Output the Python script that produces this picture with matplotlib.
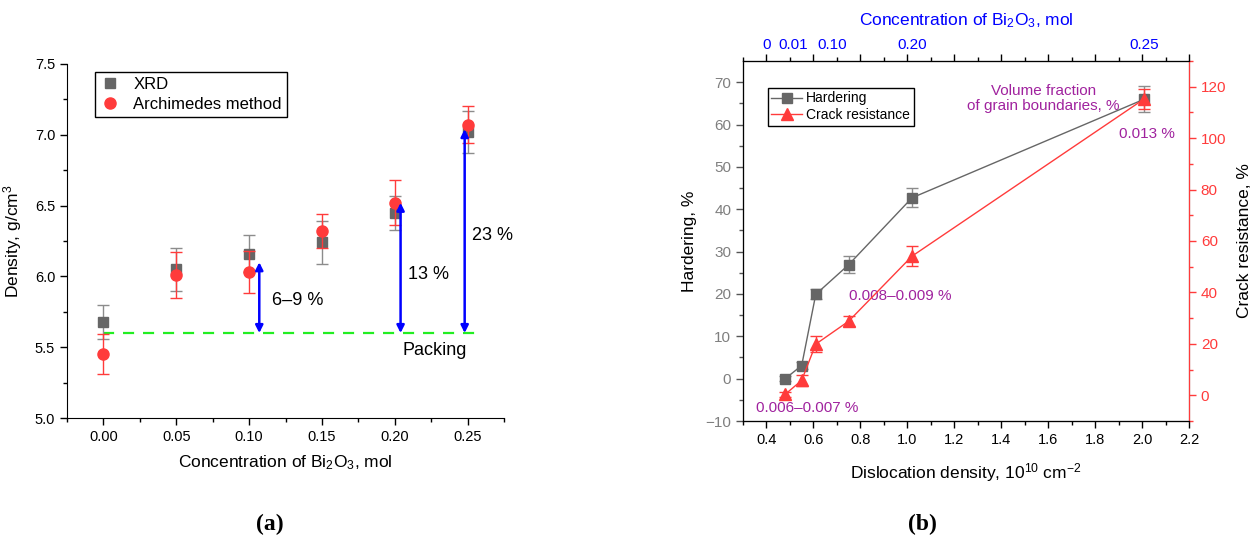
import matplotlib
matplotlib.use("Agg")
import matplotlib.pyplot as plt
import numpy as np

plt.rcParams['font.family'] = ['Liberation Sans', 'DejaVu Sans']
plt.rcParams['mathtext.fontset'] = 'custom'
plt.rcParams['mathtext.rm'] = 'Liberation Sans'
plt.rcParams['mathtext.it'] = 'Liberation Sans:italic'
plt.rcParams['mathtext.bf'] = 'Liberation Sans:bold'

# (a) density vs concentration
conc = [0.00, 0.05, 0.10, 0.15, 0.20, 0.25]
xrd = [5.68, 6.05, 6.16, 6.24, 6.45, 7.02]
xrd_err = [0.12, 0.15, 0.13, 0.15, 0.12, 0.15]
arch = [5.45, 6.01, 6.03, 6.32, 6.52, 7.07]
arch_err = [0.14, 0.16, 0.15, 0.12, 0.16, 0.13]
packing = 5.6
arrow_x = [0.107, 0.204, 0.248]
arrow_top = [6.10, 6.52, 7.04]
arrow_txt = ["6\u20139 %", "13 %", "23 %"]
arrow_txt_pos = [(0.116, 5.83), (0.209, 6.01), (0.253, 6.29)]

# (b) hardering / crack resistance vs dislocation density
disl = [0.48, 0.55, 0.61, 0.75, 1.02, 2.01]
hard = [0.0, 3.1, 19.9, 26.9, 42.7, 66.0]
hard_err = [0.6, 0.8, 1.2, 2.0, 2.2, 3.0]
crack = [0.4, 5.8, 19.9, 28.8, 54.1, 115.3]
crack_err = [1.0, 2.0, 3.0, 2.0, 4.0, 4.0]
top_pos = [0.40, 0.515, 0.68, 1.02, 2.01]
top_lbl = ["0", "0.01", "0.10", "0.20", "0.25"]

grey = '#666666'
grey_err = '#8c8c8c'
red = '#ff3b3b'
purple = '#a0229e'

fig = plt.figure(figsize=(12.5, 5.45), dpi=100)

# ---------- panel (a) ----------
ax = fig.add_axes([0.0536, 0.233, 0.3496, 0.6496])
ax.errorbar(conc, xrd, yerr=xrd_err, fmt='none', ecolor=grey_err,
            capsize=4, elinewidth=1, capthick=1, zorder=3)
ax.plot(conc, xrd, 's', color=grey, ms=7, ls='none', label='XRD', zorder=3)
ax.errorbar(conc, arch, yerr=arch_err, fmt='none', ecolor=red,
            capsize=4, elinewidth=1, capthick=1, zorder=4)
ax.plot(conc, arch, 'o', color=red, ms=8, ls='none', label='Archimedes method', zorder=4)
ax.plot([0.0, 0.258], [packing, packing], color='#22ee22', ls=(0, (5, 4)), lw=1.6, zorder=2)
for x, top in zip(arrow_x, arrow_top):
    ax.annotate('', xy=(x, packing), xytext=(x, top),
                arrowprops=dict(arrowstyle='<|-|>', color='#0000ff', lw=1.8,
                                mutation_scale=11, shrinkA=0, shrinkB=0), zorder=5)
for t, (tx, ty) in zip(arrow_txt, arrow_txt_pos):
    ax.text(tx, ty, t, fontsize=13, va='center', ha='left')
ax.text(0.205, 5.48, 'Packing', fontsize=13, va='center', ha='left')

ax.set_xlim(-0.025, 0.275)
ax.set_ylim(5.0, 7.5)
ax.set_xticks(conc)
ax.set_xticklabels([f'{c:.2f}' for c in conc])
ax.set_xticks(np.arange(-0.025, 0.28, 0.05), minor=True)
ax.set_yticks([5.0, 5.5, 6.0, 6.5, 7.0, 7.5])
ax.set_yticks(np.arange(5.25, 7.5, 0.5), minor=True)
ax.spines['top'].set_visible(False)
ax.spines['right'].set_visible(False)
ax.tick_params(labelsize=10.5, direction='out', length=5, width=1, colors='black')
ax.tick_params(which='minor', length=3, width=1)
ax.set_ylabel('Density, g/cm$^3$', fontsize=12.5, labelpad=8)
ax.set_xlabel('Concentration of Bi$_2$O$_3$, mol', fontsize=12.5, labelpad=7)
leg = ax.legend(loc='upper left', bbox_to_anchor=(0.064, 0.977), borderaxespad=0,
                fontsize=12, fancybox=False, edgecolor='black', framealpha=1,
                handletextpad=0.8, borderpad=0.3, labelspacing=0.3, handlelength=1.2)
leg.get_frame().set_linewidth(1)

# ---------- panel (b) ----------
bx = fig.add_axes([0.5944, 0.2275, 0.3568, 0.6606])
bx2 = bx.twinx()
bx3 = bx.twiny()

bx.errorbar(disl, hard, yerr=hard_err, fmt='none', ecolor=grey_err, capsize=4,
            elinewidth=1, capthick=1, zorder=3)
l1, = bx.plot(disl, hard, '-s', color=grey, lw=1, ms=7, label='Hardering', zorder=4)
bx2.errorbar(disl, crack, yerr=crack_err, fmt='none', ecolor=red, capsize=4,
             elinewidth=1, capthick=1, zorder=3)
l2, = bx2.plot(disl, crack, '-^', color=red, lw=1, ms=9, label='Crack resistance', zorder=4)

bx.set_xlim(0.3, 2.2)
bx.set_ylim(-10, 75)
bx2.set_ylim(-10, 130)
bx.set_xticks(np.arange(0.4, 2.21, 0.2))
bx.set_xticks(np.arange(0.3, 2.21, 0.1), minor=True)
bx.set_yticks(np.arange(-10, 71, 10))
bx.set_yticks(np.arange(-5, 75, 10), minor=True)
bx2.set_yticks(np.arange(0, 121, 20))
bx2.set_yticks(np.arange(-10, 131, 10), minor=True)

bx.tick_params(axis='x', labelsize=10.5, direction='out', length=5, width=1, colors='black')
bx.tick_params(axis='x', which='minor', length=3, width=1)
bx.tick_params(axis='y', labelsize=11, direction='out', length=5, width=1,
               colors='#555555', labelcolor='#7f7f7f')
bx.tick_params(axis='y', which='minor', length=3, width=1, colors='#555555')
bx2.tick_params(axis='y', labelsize=11, direction='out', length=5, width=1, colors=red)
bx2.tick_params(axis='y', which='minor', length=3, width=1, colors=red)
bx2.spines['right'].set_color(red)
bx.spines['left'].set_color('#444444')

bx3.set_xlim(bx.get_xlim())
bx3.set_xticks(np.arange(0.4, 2.21, 0.2))
bx3.set_xticks(np.arange(0.3, 2.21, 0.1), minor=True)
bx3.set_xticklabels([])
bx3.tick_params(axis='x', direction='out', length=5, width=1)
bx3.tick_params(axis='x', which='minor', length=3, width=1)
for p, lab in zip(top_pos, top_lbl):
    bx3.text(p, 1.025, lab, transform=bx3.get_xaxis_transform(), color='#0000ff',
             fontsize=11, ha='center', va='bottom')
bx3.set_xlabel('Concentration of Bi$_2$O$_3$, mol', fontsize=12.5, color='#0000ff', labelpad=17)
bx3.spines['right'].set_color(red)

bx.set_ylabel('Hardering, %', fontsize=12.5, labelpad=6)
bx2.set_ylabel('Crack resistance, %', fontsize=12.5, labelpad=8)
bx.set_xlabel('Dislocation density, 10$^{10}$ cm$^{-2}$', fontsize=12.5, labelpad=10)

bx.text(1.58, 66.2, 'Volume fraction\nof grain boundaries, %', color=purple, fontsize=11,
        ha='center', va='center', linespacing=1.1)
bx.text(2.02, 57.8, '0.013 %', color=purple, fontsize=11, ha='center', va='center')
bx.text(0.75, 19.6, '0.008\u20130.009 %', color=purple, fontsize=11, ha='left', va='center')
bx.text(0.357, -7.0, '0.006\u20130.007 %', color=purple, fontsize=11, ha='left', va='center')

leg2 = bx3.legend([l1, l2], ['Hardering', 'Crack resistance'], loc='upper left',
                  bbox_to_anchor=(0.056, 0.925), borderaxespad=0, fontsize=10,
                  fancybox=False, edgecolor='black', framealpha=1, handlelength=2.2,
                  handletextpad=0.3, borderpad=0.25, labelspacing=0.2)
leg2.get_frame().set_linewidth(1)

fig.text(0.216, 0.037, '(a)', fontsize=17, fontweight='bold', family='Liberation Serif',
         ha='center', va='center')
fig.text(0.738, 0.037, '(b)', fontsize=17, fontweight='bold', family='Liberation Serif',
         ha='center', va='center')

fig.savefig('out.png', dpi=100)
